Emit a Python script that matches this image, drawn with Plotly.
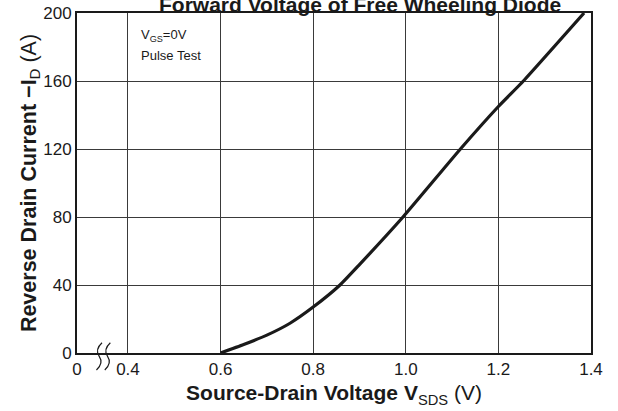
import plotly.graph_objects as go

# Data
voltage = [0.60, 0.65, 0.70, 0.75, 0.80, 0.858, 0.90, 0.994, 1.118, 1.20, 1.254, 1.385]
current = [0, 5, 10.5, 17.5, 27, 40, 52, 80, 120, 145, 160, 200]

# Axis break: "0" is drawn just left of 0.4
x_zero_pos = 0.29
x_tickvals = [x_zero_pos, 0.4, 0.6, 0.8, 1.0, 1.2, 1.4]
x_ticktext = ["0", "0.4", "0.6", "0.8", "1.0", "1.2", "1.4"]
y_tickvals = [0, 40, 80, 120, 160, 200]

FONT = "Liberation Sans, Arial, Helvetica, sans-serif"
INK = "#1a1a1a"

fig = go.Figure()
fig.add_trace(go.Scatter(
    x=voltage, y=current, mode="lines",
    line=dict(color=INK, width=3.2, shape="spline", smoothing=0.5),
    hoverinfo="skip", showlegend=False,
))

fig.update_layout(
    width=618, height=411,
    margin=dict(l=77, r=27, t=13, b=58, autoexpand=False),
    paper_bgcolor="white", plot_bgcolor="white",
    font=dict(family=FONT, color=INK),
    xaxis=dict(
        range=[x_zero_pos, 1.4], tickmode="array",
        tickvals=x_tickvals, ticktext=x_ticktext,
        showgrid=True, gridcolor="#3a3a3a", gridwidth=1,
        showline=True, linecolor=INK, linewidth=2, mirror=True,
        ticks="", zeroline=False, automargin=False,
        tickfont=dict(size=17, color=INK),
        title=dict(
            text="<b>Source-Drain Voltage V</b><sub>SDS</sub> (V)",
            font=dict(size=21, color=INK), standoff=7,
        ),
    ),
    yaxis=dict(
        range=[0, 200], tickmode="array", tickvals=y_tickvals,
        showgrid=True, gridcolor="#3a3a3a", gridwidth=1,
        showline=True, linecolor=INK, linewidth=2, mirror=True,
        ticks="", zeroline=False, automargin=False,
        tickfont=dict(size=17, color=INK),
        title=dict(
            text="<b>Reverse Drain Current \u2212I</b><sub>D</sub> (A)",
            font=dict(size=21.5, color=INK), standoff=0,
        ),
    ),
)

# Chart title (partly cut off at the top, as in the reference)
fig.add_annotation(
    text="<b>Forward Voltage of Free Wheeling Diode</b>",
    xref="paper", yref="paper", x=0.55, y=1.0,
    xanchor="center", yanchor="bottom", yshift=-5, showarrow=False,
    font=dict(size=21, color=INK),
)

# Condition notes
fig.add_annotation(
    text="V<sub>GS</sub>=0V",
    xref="paper", yref="paper", x=0.121, y=0.935,
    xanchor="left", yanchor="middle", align="left", showarrow=False,
    font=dict(size=13, color=INK),
)
fig.add_annotation(
    text="Pulse Test",
    xref="paper", yref="paper", x=0.121, y=0.875,
    xanchor="left", yanchor="middle", align="left", showarrow=False,
    font=dict(size=13, color=INK),
)

# Axis-break wavy marks
for dx in (0.0, 0.018):
    x0 = 0.338 + dx
    fig.add_shape(
        type="path", xref="x", yref="paper",
        path=(f"M {x0+0.006},0.03 Q {x0-0.010},0.010 {x0+0.000},-0.010 "
              f"Q {x0+0.010},-0.030 {x0-0.006},-0.05"),
        line=dict(color=INK, width=1.2),
    )

fig.write_html("out.html", config={"displayModeBar": False},
               post_script="document.body.style.margin='0';")
